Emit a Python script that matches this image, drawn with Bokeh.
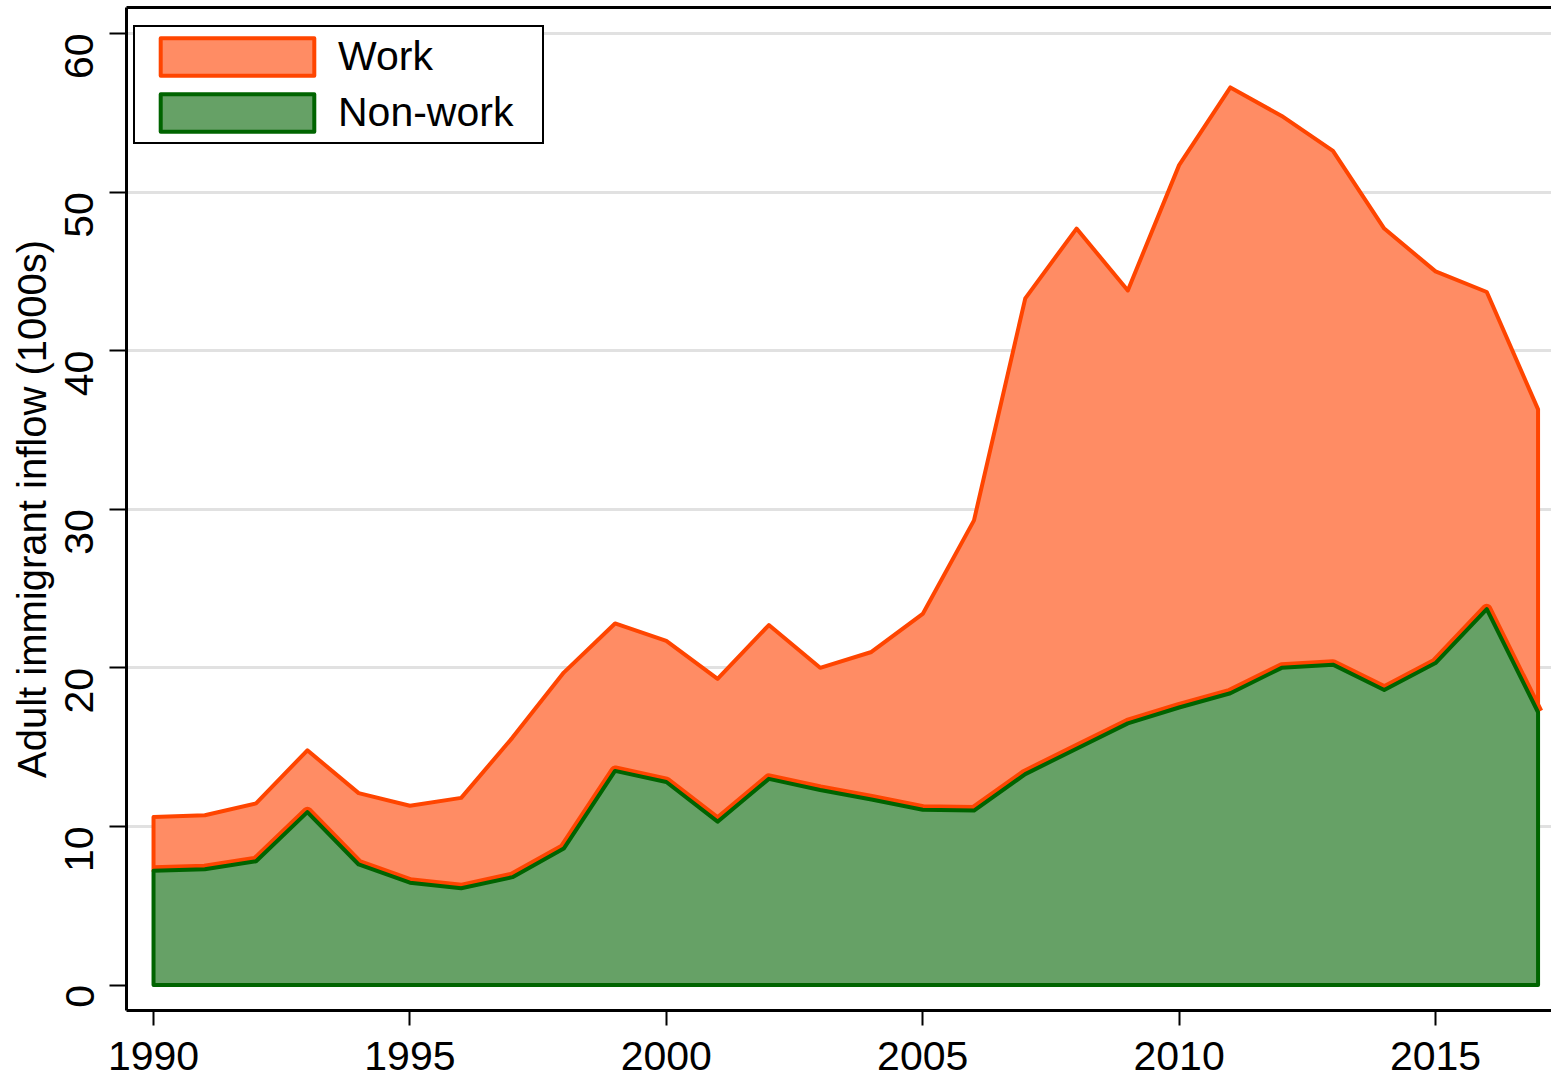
import math
from bokeh.plotting import figure
from bokeh.models import Range1d, FixedTicker, Legend, LegendItem, LinearAxis
from bokeh.embed import file_html
from bokeh.resources import INLINE

years = list(range(1990, 2018))
total = [10.6, 10.7, 11.45, 14.8, 12.1, 11.3, 11.8, 15.6, 19.7, 22.8, 21.7, 19.3, 22.7, 20.0,
         21.0, 23.4, 29.3, 43.3, 47.7, 43.8, 51.7, 56.6, 54.8, 52.6, 47.7, 45.0, 43.7, 36.3]
nonwork = [7.2, 7.3, 7.8, 10.9, 7.6, 6.45, 6.1, 6.8, 8.6, 13.5, 12.8, 10.3, 13.0, 12.3,
           11.7, 11.05, 11.0, 13.3, 14.9, 16.5, 17.5, 18.4, 20.0, 20.2, 18.6, 20.3, 23.7, 17.2]
series_labels = ["Work", "Non-work"]
y_ticks = [0, 10, 20, 30, 40, 50, 60]
x_ticks = [1990, 1995, 2000, 2005, 2010, 2015]

FONT = "Liberation Sans"
ORANGE_FILL = "#FF8C64"
ORANGE_LINE = "#FF4500"
GREEN_FILL = "#66A166"
GREEN_LINE = "#006400"

p = figure(width=1551, height=1078, output_backend="svg", toolbar_location=None,
           x_range=Range1d(1989.473, 2017.262), y_range=Range1d(-1.608, 61.64),
           min_border_left=126, min_border_right=0, min_border_top=7, min_border_bottom=68)

p.background_fill_color = "white"
p.border_fill_color = "white"
p.outline_line_color = None

# work band (between non-work and total)
bx = years + years[::-1]
by = total + nonwork[::-1]
work_r = p.patch(bx, by, fill_color=ORANGE_FILL, line_color=ORANGE_LINE, line_width=4, line_join="round")
p.line(years, nonwork, line_color=ORANGE_LINE, line_width=11, line_join="round")

gx = years + [years[-1], years[0]]
gy = nonwork + [0, 0]
nw_r = p.patch(gx, gy, fill_color=GREEN_FILL, line_color=GREEN_LINE, line_width=4, line_join="round")

# axes
p.xaxis.ticker = FixedTicker(ticks=x_ticks)
p.yaxis.ticker = FixedTicker(ticks=y_ticks)
p.xgrid.visible = False
p.ygrid.ticker = FixedTicker(ticks=y_ticks[1:])
p.ygrid.grid_line_color = "#E1E1E1"
p.ygrid.grid_line_width = 3

for ax in (p.xaxis[0], p.yaxis[0]):
    ax.axis_line_color = "black"
    ax.axis_line_width = 3
    ax.major_tick_line_color = "black"
    ax.major_tick_line_width = 2
    ax.minor_tick_line_color = None
    ax.major_label_text_font = FONT
    ax.major_label_text_font_size = "41px"
    ax.major_label_text_color = "black"
    ax.axis_label_text_font = FONT
    ax.axis_label_text_font_size = "40px"
    ax.axis_label_text_font_style = "normal"
    ax.axis_label_text_color = "black"

p.xaxis.major_tick_out = 15
p.xaxis.major_tick_in = 0
p.xaxis.major_label_standoff = 16
p.yaxis.major_tick_out = 17
p.yaxis.major_tick_in = 0
p.yaxis.major_label_standoff = 30
p.yaxis.major_label_orientation = math.pi / 2
p.yaxis.axis_label = "Adult immigrant inflow (1000s)"
p.yaxis.axis_label_standoff = -5

# top border line (plot region frame)
top = LinearAxis(ticker=FixedTicker(ticks=[]), major_label_text_font_size="0px",
                 axis_line_color="black", axis_line_width=3,
                 major_tick_line_color=None, minor_tick_line_color=None)
p.add_layout(top, "above")

legend = Legend(items=[LegendItem(label=series_labels[0], renderers=[work_r]),
                       LegendItem(label=series_labels[1], renderers=[nw_r])],
                location=(7, 866), margin=0, padding=6, spacing=9,
                glyph_width=192, glyph_height=47, label_standoff=5, label_width=198,
                label_text_font=FONT, label_text_font_size="41px", label_text_color="black",
                border_line_color="black", border_line_width=2, border_line_alpha=1.0,
                background_fill_alpha=1.0)
p.add_layout(legend)

open("out.html", "w").write(file_html(p, INLINE))
